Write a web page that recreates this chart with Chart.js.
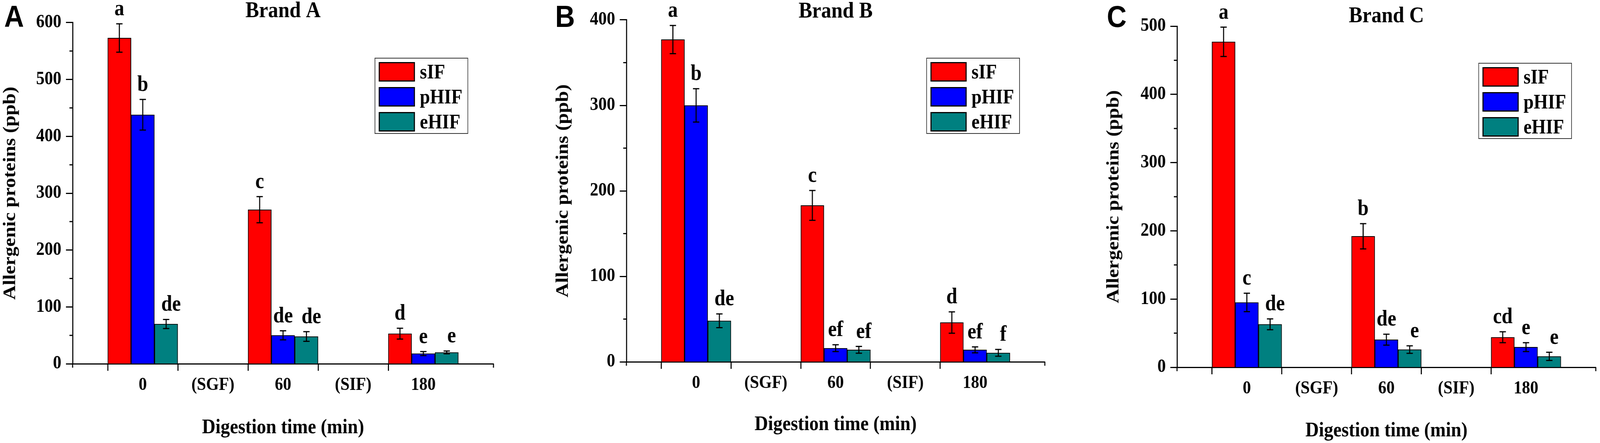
<!DOCTYPE html>
<html>
<head>
  <title>Allergenic proteins</title>
  <script src="https://cdn.jsdelivr.net/npm/chart.js"></script>
  <style>
    html, body { margin: 0; padding: 0; background: #fff; overflow: hidden; }
    #stage { position: absolute; left: 0; top: 0; width: 4562px; height: 1135px; transform-origin: 0 0; }
    .panel { position: absolute; top: 0; height: 1135px; }
    .panel canvas { position: absolute; left: 0; top: 0; }
    .tag { position: absolute; top: 3px; font: bold 78px "Liberation Sans", Arial, sans-serif; line-height: 78px; color: #000; }
    .legend { position: absolute; width: 263px; height: 191px; border: 2px solid #333; background: #fff; }
    .legend .row { position: absolute; left: 10px; height: 50px; }
    .legend .sw { position: absolute; left: 0; top: 0; width: 97px; height: 44px; border: 3px solid #000; }
    .legend .lb { position: absolute; left: 117px; top: -3px; font: bold 52px "Liberation Serif", "Times New Roman", serif; line-height: 56px; color: #000; white-space: nowrap; }
  </style>
</head>
<body>

  <div id="stage">
    <div class="panel" id="panelA" style="left:0;width:1520px"><canvas id="chartA"></canvas></div>
    <div class="panel" id="panelB" style="left:1520px;width:1520px"><canvas id="chartB"></canvas></div>
    <div class="panel" id="panelC" style="left:3040px;width:1522px"><canvas id="chartC"></canvas></div>
  </div>

  <script>
    // stretch the 4562x1135 stage over the real viewport
    const stage = document.getElementById('stage');
    const sx = window.innerWidth / 4562;
    const sy = window.innerHeight / 1135;
    stage.style.transform = 'scale(' + sx + ',' + sy + ')';

    // data
    const timeLabels = ['0', '60', '180'];
    const phaseLabels = ['(SGF)', '(SIF)'];
    const seriesNames = ['sIF', 'pHIF', 'eHIF'];
    const seriesColors = ['#ff0000', '#0000ff', '#008080'];

    const brandA_sIF = [573, 271, 53];
    const brandA_pHIF = [438, 50, 18];
    const brandA_eHIF = [70, 48, 20];
    const brandA_sIF_sd = [25, 23, 9.5];
    const brandA_pHIF_sd = [27, 8, 3.5];
    const brandA_eHIF_sd = [8, 8.5, 2.5];
    const brandA_sIF_sig = ['a', 'c', 'd'];
    const brandA_pHIF_sig = ['b', 'de', 'e'];
    const brandA_eHIF_sig = ['de', 'de', 'e'];

    const brandB_sIF = [377, 183, 46];
    const brandB_pHIF = [300, 16, 14];
    const brandB_eHIF = [48, 14, 10.5];
    const brandB_sIF_sd = [16.5, 17.5, 12.5];
    const brandB_pHIF_sd = [19.5, 4, 3.5];
    const brandB_eHIF_sd = [8, 4, 4];
    const brandB_sIF_sig = ['a', 'c', 'd'];
    const brandB_pHIF_sig = ['b', 'ef', 'ef'];
    const brandB_eHIF_sig = ['de', 'ef', 'f'];

    const brandC_sIF = [477, 192, 44];
    const brandC_pHIF = [95, 40.5, 29.5];
    const brandC_eHIF = [63, 26, 16];
    const brandC_sIF_sd = [21.5, 18.5, 8];
    const brandC_pHIF_sd = [13.5, 8, 6.5];
    const brandC_eHIF_sd = [8, 5.5, 6];
    const brandC_sIF_sig = ['a', 'b', 'cd'];
    const brandC_pHIF_sig = ['c', 'de', 'e'];
    const brandC_eHIF_sig = ['de', 'e', 'e'];

    const SERIF = '"Liberation Serif", "Times New Roman", serif';
    Chart.defaults.font.family = SERIF;
    Chart.defaults.font.weight = 'bold';
    Chart.defaults.color = '#000';

    // x axis: blank, 0, (SGF), 60, (SIF), 180, blank
    const xLabels = ['', timeLabels[0], phaseLabels[0], timeLabels[1], phaseLabels[1], timeLabels[2], ''];
    function spread(vals) {
      return [null, vals[0], null, vals[1], null, vals[2], null];
    }

    // error bars + significance letters
    const errorBars = {
      id: 'errorBars',
      afterDatasetsDraw(chart) {
        const { ctx } = chart;
        const y = chart.scales.y;
        chart.data.datasets.forEach((ds, i) => {
          const meta = chart.getDatasetMeta(i);
          meta.data.forEach((bar, j) => {
            const v = ds.data[j];
            if (v == null) return;
            const e = ds.errors[j];
            const top = y.getPixelForValue(v + e);
            const bot = y.getPixelForValue(v - e);
            ctx.save();
            ctx.strokeStyle = '#000';
            ctx.lineWidth = 3;
            ctx.beginPath();
            ctx.moveTo(bar.x, top); ctx.lineTo(bar.x, bot);
            ctx.moveTo(bar.x - 9, top); ctx.lineTo(bar.x + 9, top);
            ctx.moveTo(bar.x - 9, bot); ctx.lineTo(bar.x + 9, bot);
            ctx.stroke();
            ctx.font = 'bold 56px ' + SERIF;
            ctx.fillStyle = '#000';
            ctx.textAlign = 'center';
            ctx.textBaseline = 'alphabetic';
            ctx.fillText(ds.letters[j], bar.x + (ds.letterShift || 0), top - 22);
            ctx.restore();
          });
        });
      }
    };

    // minor ticks on y (every 50) and short end ticks on x
    const minorTicks = {
      id: 'minorTicks',
      afterDraw(chart) {
        const { ctx, chartArea } = chart;
        const { x, y } = chart.scales;
        ctx.save();
        ctx.strokeStyle = '#000';
        ctx.lineWidth = 3;
        ctx.beginPath();
        for (let v = 50; v < y.max; v += 100) {
          const py = y.getPixelForValue(v);
          ctx.moveTo(chartArea.left - 9, py);
          ctx.lineTo(chartArea.left, py);
        }
        [0, x.ticks.length - 1].forEach(i => {
          const px = x.getPixelForTick(i);
          ctx.moveTo(px, chartArea.bottom);
          ctx.lineTo(px, chartArea.bottom + 10);
        });
        ctx.stroke();
        ctx.restore();
      }
    };

    function makeChart(id, title, values, errors, letters, cfg) {
      const ctx = document.getElementById(id).getContext('2d');
      const datasets = seriesNames.map((name, i) => ({
        label: name,
        data: spread(values[i]),
        errors: spread(errors[i]),
        letters: spread(letters[i]),
        letterShift: i === 2 ? 14 : 0,
        backgroundColor: seriesColors[i],
        borderColor: '#000',
        borderWidth: 2,
        categoryPercentage: 1,
        barPercentage: 1
      }));
      const chart = new Chart(ctx, {
        type: 'bar',
        data: { labels: xLabels, datasets: datasets },
        options: {
          responsive: true,
          maintainAspectRatio: false,
          animation: false,
          layout: { padding: { left: 0, top: 0, right: cfg.padRight, bottom: 0 } },
          plugins: {
            legend: { display: false },
            tooltip: { enabled: false },
            title: {
              display: true,
              text: title,
              fullSize: false,
              font: { size: 58, weight: 'bold', lineHeight: 0.7 },
              padding: { top: cfg.titleTop, bottom: cfg.titleBottom }
            }
          },
          scales: {
            x: {
              offset: false,
              grid: {
                drawOnChartArea: false,
                tickLength: 18,
                tickWidth: 3,
                tickColor: c => (c.index === 0 || c.index === xLabels.length - 1) ? 'rgba(0,0,0,0)' : '#000'
              },
              border: { color: '#000', width: 3 },
              ticks: { autoSkip: false, maxRotation: 0, padding: 9, font: { size: 47, weight: 'bold' } },
              title: {
                display: true,
                text: 'Digestion time (min)',
                font: { size: 53, weight: 'bold', lineHeight: 1 },
                padding: { top: 0, bottom: cfg.xTitlePad }
              },
              afterFit: s => { s.height = cfg.xHeight; }
            },
            y: {
              min: 0,
              max: cfg.yMax,
              grid: { drawOnChartArea: false, tickLength: 19, tickWidth: 3, tickColor: '#000' },
              border: { color: '#000', width: 3 },
              ticks: { stepSize: 100, padding: 13, font: { size: 48, weight: 'bold' } },
              title: {
                display: true,
                text: 'Allergenic proteins (ppb)',
                font: { size: 51, weight: 'bold', lineHeight: 1 },
                padding: { top: cfg.yTitlePad, bottom: 0 }
              },
              afterFit: s => { s.width = cfg.yWidth; }
            }
          }
        },
        plugins: [errorBars, minorTicks]
      });
      return chart;
    }

    function addLegend(panelId, chart, left, top) {
      const box = document.createElement('div');
      box.className = 'legend';
      box.style.left = left + 'px';
      box.style.top = top + 'px';
      chart.data.datasets.forEach((ds, i) => {
        const row = document.createElement('div');
        row.className = 'row';
        row.style.top = (9 + i * 64) + 'px';
        row.innerHTML = '<div class="sw" style="background:' + ds.backgroundColor + '"></div>' +
          '<div class="lb">' + ds.label + '</div>';
        box.appendChild(row);
      });
      document.getElementById(panelId).appendChild(box);
    }

    function addTag(panelId, text, left) {
      const tag = document.createElement('div');
      tag.className = 'tag';
      tag.style.left = left + 'px';
      tag.textContent = text;
      document.getElementById(panelId).appendChild(tag);
    }

    const chartA = makeChart('chartA', 'Brand A',
      [brandA_sIF, brandA_pHIF, brandA_eHIF],
      [brandA_sIF_sd, brandA_pHIF_sd, brandA_eHIF_sd],
      [brandA_sIF_sig, brandA_pHIF_sig, brandA_eHIF_sig],
      { yMax: 600, yWidth: 207, xHeight: 203, padRight: 113, titleTop: 8.7, titleBottom: 8.7, yTitlePad: 4, xTitlePad: 12.5 });

    const chartB = makeChart('chartB', 'Brand B',
      [brandB_sIF, brandB_pHIF, brandB_eHIF],
      [brandB_sIF_sd, brandB_pHIF_sd, brandB_eHIF_sd],
      [brandB_sIF_sig, brandB_pHIF_sig, brandB_eHIF_sig],
      { yMax: 400, yWidth: 266, xHeight: 208, padRight: 61, titleTop: 9.7, titleBottom: 0.7, yTitlePad: 60, xTitlePad: 20.5 });

    const chartC = makeChart('chartC', 'Brand C',
      [brandC_sIF, brandC_pHIF, brandC_eHIF],
      [brandC_sIF_sd, brandC_pHIF_sd, brandC_eHIF_sd],
      [brandC_sIF_sig, brandC_pHIF_sig, brandC_eHIF_sig],
      { yMax: 500, yWidth: 316, xHeight: 194, padRight: 12, titleTop: 21.7, titleBottom: 4.7, yTitlePad: 110, xTitlePad: 4.5 });

    addLegend('panelA', chartA, 1068, 148);
    addLegend('panelB', chartB, 1121, 148);
    addLegend('panelC', chartC, 1175, 161);

    addTag('panelA', 'A', 12);
    addTag('panelB', 'B', 63);
    addTag('panelC', 'C', 116);
  </script>
</body>
</html>
